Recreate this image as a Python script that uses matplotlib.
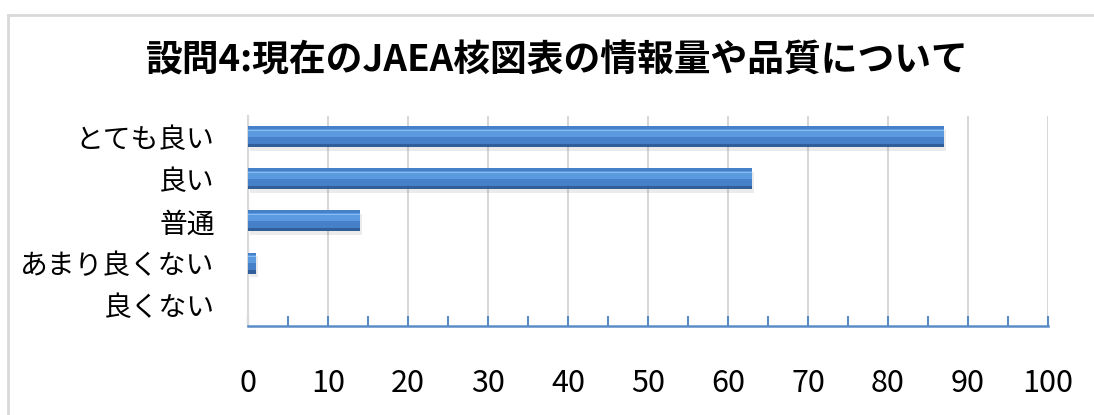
import matplotlib
matplotlib.use("Agg")
import matplotlib.pyplot as plt
from matplotlib.lines import Line2D
from matplotlib.ticker import MultipleLocator

plt.rcParams['font.family'] = ['Noto Sans CJK JP', 'DejaVu Sans']

title = "設問4:現在のJAEA核図表の情報量や品質について"
categories = ["とても良い", "良い", "普通", "あまり良くない", "良くない"]
values = [87, 63, 14, 1, 0]
x_ticks = [0, 10, 20, 30, 40, 50, 60, 70, 80, 90, 100]

W, H = 1094, 415
fig = plt.figure(figsize=(W / 100, H / 100), dpi=100)
fig.patch.set_facecolor("white")

# chart-area frame (top and left edges visible)
fig.add_artist(Line2D([8 / W, 1.0], [1 - 15 / H, 1 - 15 / H], color="#D9D9D9",
                      lw=2, transform=fig.transFigure))
fig.add_artist(Line2D([8 / W, 8 / W], [0, 1 - 15 / H], color="#D9D9D9",
                      lw=2, transform=fig.transFigure))

left, right = 248 / W, 1048 / W
bottom, top = 1 - 326 / H, 1 - 116 / H
ax = fig.add_axes([left, bottom, right - left, top - bottom])

y = list(range(len(categories)))
bh = 0.5

# soft shadow, body, and bevel bands for a 3-D look
ax.barh([yy + 0.08 for yy in y], values, height=bh, left=0.3, color="#000000",
        alpha=0.08, zorder=2)
ax.barh(y, values, height=bh, color="#4680C8", zorder=3)
ax.barh([yy - bh * 0.20 for yy in y], values, height=bh * 0.36,
        color="#5C9AE0", zorder=4)
ax.barh([yy - bh * 0.31 for yy in y], values, height=bh * 0.08,
        color="#86BCF0", zorder=5)
ax.barh([yy + bh * 0.41 for yy in y], values, height=bh * 0.18,
        color="#2F5E98", zorder=4)

ax.set_xlim(0, 100)
ax.set_ylim(len(categories) - 0.5, -0.5)
ax.set_yticks(y)
ax.set_yticklabels(categories, fontsize=20)
ax.set_xticks(x_ticks)
ax.set_xticklabels([str(t) for t in x_ticks], fontsize=22)
ax.xaxis.set_minor_locator(MultipleLocator(5))

ax.grid(axis="x", which="major", color="#D9D9D9", lw=1.5, zorder=0)
ax.set_axisbelow(True)

for s in ["top", "right"]:
    ax.spines[s].set_visible(False)
ax.spines["left"].set_color("#D9D9D9")
ax.spines["left"].set_linewidth(1.5)
ax.spines["bottom"].set_color("#5B8CC8")
ax.spines["bottom"].set_linewidth(1.8)

ax.tick_params(axis="y", length=0, pad=24)
ax.tick_params(axis="x", which="both", direction="in", length=7, width=1.5,
               color="#5B8CC8", pad=30)
ax.tick_params(axis="x", which="minor", labelbottom=False)

fig.text(557 / W, 1 - 61 / H, title, ha="center", va="center",
         fontsize=26.5, fontweight="bold")

fig.savefig("out.png", dpi=100, facecolor="white")
